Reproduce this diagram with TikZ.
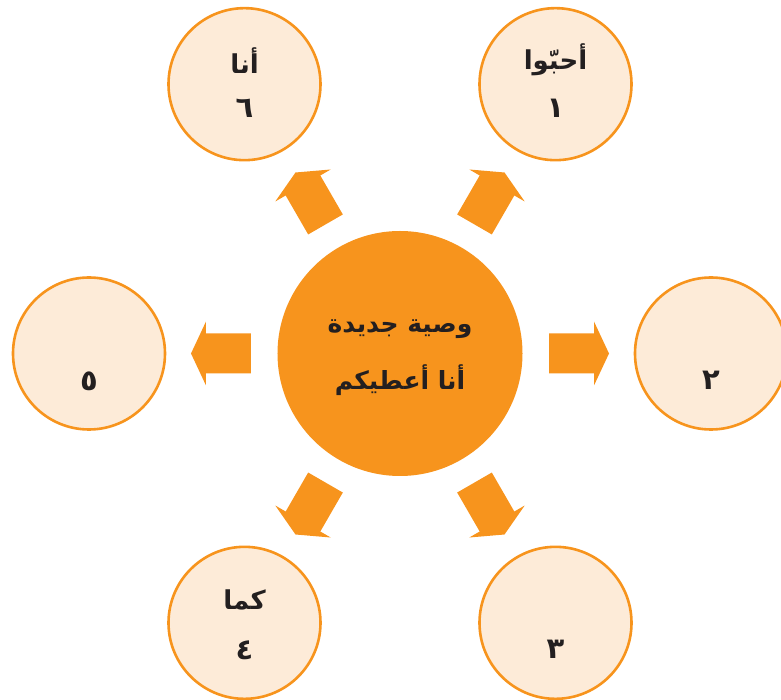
\documentclass[tikz,border=0pt]{standalone}
\usepackage{fontspec}
\newfontfamily\arabicfont[Script=Arabic]{DejaVu Sans}
\TeXXeTstate=1
\definecolor{arrorange}{RGB}{247,148,29}
\definecolor{leaffill}{RGB}{253,235,216}
\definecolor{inkblack}{RGB}{35,31,32}
\newcommand{\rl}[1]{\beginR #1\endR}

\begin{document}
\begin{tikzpicture}[x=1pt, y=1pt, every node/.style={text=inkblack, align=center}]
  \tikzstyle{hub}=[circle, fill=arrorange, minimum size=245pt, inner sep=0pt]
  \tikzstyle{leaf}=[circle, draw=arrorange, line width=2.6pt, fill=leaffill, minimum size=152pt, inner sep=0pt]
  \tikzstyle{hubtext}=[font=\arabicfont\bfseries\fontsize{25}{57}\selectfont]
  \tikzstyle{word}=[font=\arabicfont\bfseries\fontsize{26}{30}\selectfont]
  \tikzstyle{digit}=[font=\arabicfont\bfseries\fontsize{29}{30}\selectfont]
  \tikzstyle{blockarrow}=[fill=arrorange]
  \useasboundingbox (-400,-346.5) rectangle (381,353.5);
  \node[hub] (hub) at (0,0) {};
  \node[hubtext] (motto) at ([yshift=-4pt]hub.center) {\rl{وصية جديدة}\\\rl{أنا أعطيكم}};
  % outer circles
  \node[leaf] (one) at (60:311) {};
  \node[leaf] (two) at (0:311) {};
  \node[leaf] (three) at (-60:311) {};
  \node[leaf] (four) at (-120:311) {};
  \node[leaf] (five) at (180:311) {};
  \node[leaf] (six) at (120:311) {};
  % words and numbers
  \node[word] (oneword) at ([yshift=24pt]one.center) {\rl{أحبّوا}};
  \node[digit] (onenum) at ([yshift=-24pt]one.center) {\rl{١}};
  \node[digit] (twonum) at ([yshift=-27pt]two.center) {\rl{٢}};
  \node[digit] (threenum) at ([yshift=-26pt]three.center) {\rl{٣}};
  \node[word] (fourword) at ([yshift=23pt]four.center) {\rl{كما}};
  \node[digit] (fournum) at ([yshift=-27pt]four.center) {\rl{٤}};
  \node[digit] (fivenum) at ([yshift=-28pt]five.center) {\rl{٥}};
  \node[word] (sixword) at ([yshift=24pt]six.center) {\rl{أنا}};
  \node[digit] (sixnum) at ([yshift=-24pt]six.center) {\rl{٦}};
  % block arrows from the hub
  \foreach \a in {0,60,...,300}
    \fill[blockarrow, shift={(hub.center)}, rotate=\a] (149,-20) -- (194,-20) -- (194,-32) -- (209,0) -- (194,32) -- (194,20) -- (149,20) -- cycle;
\end{tikzpicture}
\end{document}
